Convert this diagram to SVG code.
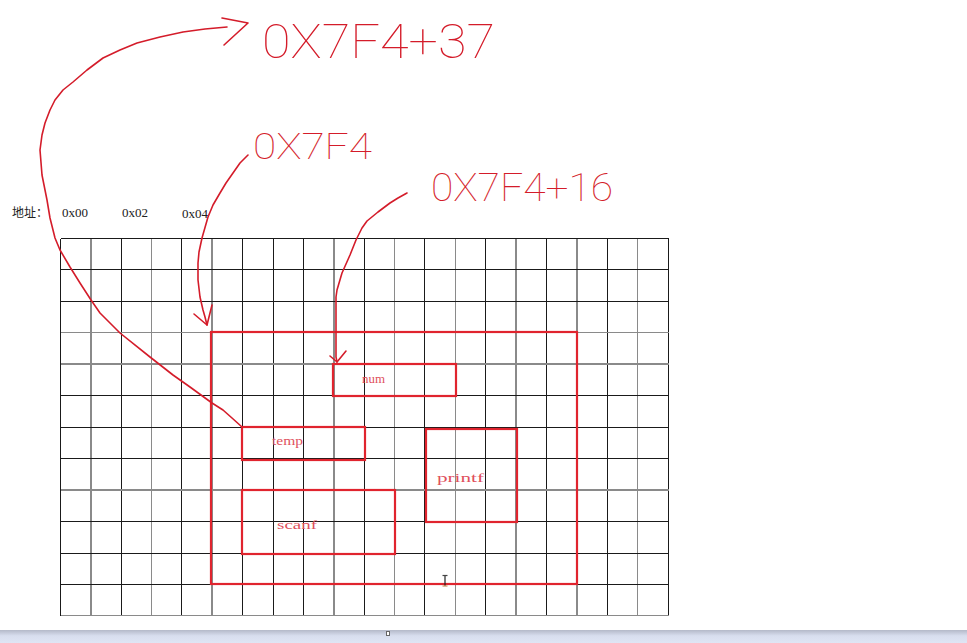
<svg xmlns="http://www.w3.org/2000/svg" width="967" height="643" viewBox="0 0 967 643">
<defs>
<linearGradient id="bar" x1="0" y1="0" x2="0" y2="1">
<stop offset="0" stop-color="#b4b9c8"/>
<stop offset="0.45" stop-color="#d8deee"/>
<stop offset="1" stop-color="#dfe5f4"/>
</linearGradient>
</defs>
<style>
.gk{stroke:#1a1a1a;stroke-width:1;shape-rendering:crispEdges}
.gg{stroke:#8a8a8a;stroke-width:1.2;shape-rendering:crispEdges}
.box{fill:none;stroke:#e0242e;stroke-width:2.2}
.lbl{font-family:"Liberation Serif",serif;font-size:13px;fill:#e0505c}
.addr{font-family:"Liberation Serif",serif;font-size:12px;fill:#222}
.hand{font-family:Roboto,"Liberation Sans",sans-serif;font-weight:100;fill:#d41c2a}
.ink{fill:none;stroke:#d41c2a;stroke-width:1.6;stroke-linecap:round;stroke-linejoin:round}
</style>
<rect width="967" height="643" fill="#ffffff"/>

<g id="grid">
<line class="gk" x1="60.5" y1="238.5" x2="60.5" y2="615.5"/>
<line class="gg" x1="91" y1="238.5" x2="91" y2="615.5"/>
<line class="gk" x1="121.5" y1="238.5" x2="121.5" y2="615.5"/>
<line class="gg" x1="151.5" y1="238.5" x2="151.5" y2="615.5"/>
<line class="gk" x1="181.5" y1="238.5" x2="181.5" y2="615.5"/>
<line class="gg" x1="212" y1="238.5" x2="212" y2="615.5"/>
<line class="gk" x1="242.5" y1="238.5" x2="242.5" y2="615.5"/>
<line class="gk" x1="273.5" y1="238.5" x2="273.5" y2="615.5"/>
<line class="gk" x1="303.5" y1="238.5" x2="303.5" y2="615.5"/>
<line class="gg" x1="334" y1="238.5" x2="334" y2="615.5"/>
<line class="gk" x1="364.5" y1="238.5" x2="364.5" y2="615.5"/>
<line class="gg" x1="394.5" y1="238.5" x2="394.5" y2="615.5"/>
<line class="gk" x1="424.5" y1="238.5" x2="424.5" y2="615.5"/>
<line class="gg" x1="455.5" y1="238.5" x2="455.5" y2="615.5"/>
<line class="gk" x1="485.5" y1="238.5" x2="485.5" y2="615.5"/>
<line class="gg" x1="516" y1="238.5" x2="516" y2="615.5"/>
<line class="gk" x1="546.5" y1="238.5" x2="546.5" y2="615.5"/>
<line class="gg" x1="577" y1="238.5" x2="577" y2="615.5"/>
<line class="gk" x1="607.5" y1="238.5" x2="607.5" y2="615.5"/>
<line class="gg" x1="637.5" y1="238.5" x2="637.5" y2="615.5"/>
<line class="gk" x1="668.5" y1="238.5" x2="668.5" y2="615.5"/>
<line class="gk" x1="60.5" y1="238.5" x2="668.5" y2="238.5"/>
<line class="gk" x1="60.5" y1="269.5" x2="668.5" y2="269.5"/>
<line class="gk" x1="60.5" y1="301" x2="668.5" y2="301"/>
<line class="gg" x1="60.5" y1="332.5" x2="668.5" y2="332.5"/>
<line class="gg" x1="60.5" y1="364" x2="668.5" y2="364"/>
<line class="gk" x1="60.5" y1="395.5" x2="668.5" y2="395.5"/>
<line class="gk" x1="60.5" y1="427.5" x2="668.5" y2="427.5"/>
<line class="gk" x1="60.5" y1="458.5" x2="668.5" y2="458.5"/>
<line class="gg" x1="60.5" y1="490" x2="668.5" y2="490"/>
<line class="gk" x1="60.5" y1="521.5" x2="668.5" y2="521.5"/>
<line class="gk" x1="60.5" y1="553.5" x2="668.5" y2="553.5"/>
<line class="gk" x1="60.5" y1="584.5" x2="668.5" y2="584.5"/>
<line class="gg" x1="60.5" y1="615.5" x2="668.5" y2="615.5"/>
</g>

<g id="addresses">
<text x="12" y="217" font-family="'Noto Sans CJK SC',sans-serif" font-size="12" fill="#222">地址：</text>
<text class="addr" x="62" y="217" textLength="26" lengthAdjust="spacingAndGlyphs">0x00</text>
<text class="addr" x="122" y="217" textLength="26" lengthAdjust="spacingAndGlyphs">0x02</text>
<text class="addr" x="182" y="218" textLength="26" lengthAdjust="spacingAndGlyphs">0x04</text>
</g>

<g id="stack">
<rect class="box" x="211" y="332" width="366" height="252"/>
</g>
<g id="num">
<rect class="box" x="333" y="364" width="123" height="32"/>
<text class="lbl" x="362" y="383" textLength="23" lengthAdjust="spacingAndGlyphs">num</text>
</g>
<g id="temp">
<rect class="box" x="242" y="427" width="123" height="33"/>
<text class="lbl" x="272" y="445" textLength="31" lengthAdjust="spacingAndGlyphs">temp</text>
</g>
<g id="scanf">
<rect class="box" x="242" y="490" width="153" height="64"/>
<text class="lbl" x="277" y="529" textLength="40" lengthAdjust="spacingAndGlyphs">scanf</text>
</g>
<g id="printf">
<rect class="box" x="426" y="429" width="91" height="93"/>
<text class="lbl" x="437" y="482" textLength="47" lengthAdjust="spacingAndGlyphs">printf</text>
</g>

<g id="labels">
<text class="hand" x="262" y="58" font-size="48" textLength="233" lengthAdjust="spacingAndGlyphs">0X7F4+37</text>
<text class="hand" x="253" y="159" font-size="36" textLength="119" lengthAdjust="spacingAndGlyphs">0X7F4</text>
<text class="hand" x="431" y="201" font-size="38" textLength="182" lengthAdjust="spacingAndGlyphs">0X7F4+16</text>
</g>

<g id="connectors">
<polyline class="ink" points="242,427 232,418 223,410 212,403 190,387 173,375 150,357 120,333 100,313 91,300 80,283 70,267 60,250 55,238 50,218 47,200 42,175 40,150 42,135 45,123 50,110 55,100 63,90 73,82 87,70 103,58 120,50 137,43 160,37 183,32 205,29 227,27"/>
<polyline class="ink" points="222,18 248,23 224,45"/>
<polyline class="ink" points="248,155 240,163 233,173 226,183 220,193 213,205 208,217 202,238 199,252 198,263 198,280 200,297 203,310 205,317 207,325"/>
<polyline class="ink" points="194,314 207,325 212,305"/>
<polyline class="ink" points="407,193 398,198 390,203 378,212 367,221 362,228 356,240 350,255 342,273 337,290 336,297 336,330 336,357 337,362"/>
<polyline class="ink" points="330,356 337,362 346,351"/>
</g>

<g id="cursor">
<line x1="445" y1="575.5" x2="445" y2="586" stroke="#222" stroke-width="1.2"/>
<line x1="442.5" y1="575.5" x2="447.5" y2="575.5" stroke="#444" stroke-width="1.2"/>
<line x1="442.5" y1="586" x2="447.5" y2="586" stroke="#c8905c" stroke-width="1.2"/>
</g>

<g id="statusbar">
<rect x="0" y="630" width="967" height="13" fill="url(#bar)"/>
<rect x="386.5" y="631.5" width="3" height="4" fill="#ffffff" stroke="#666" stroke-width="1"/>
</g>
</svg>
